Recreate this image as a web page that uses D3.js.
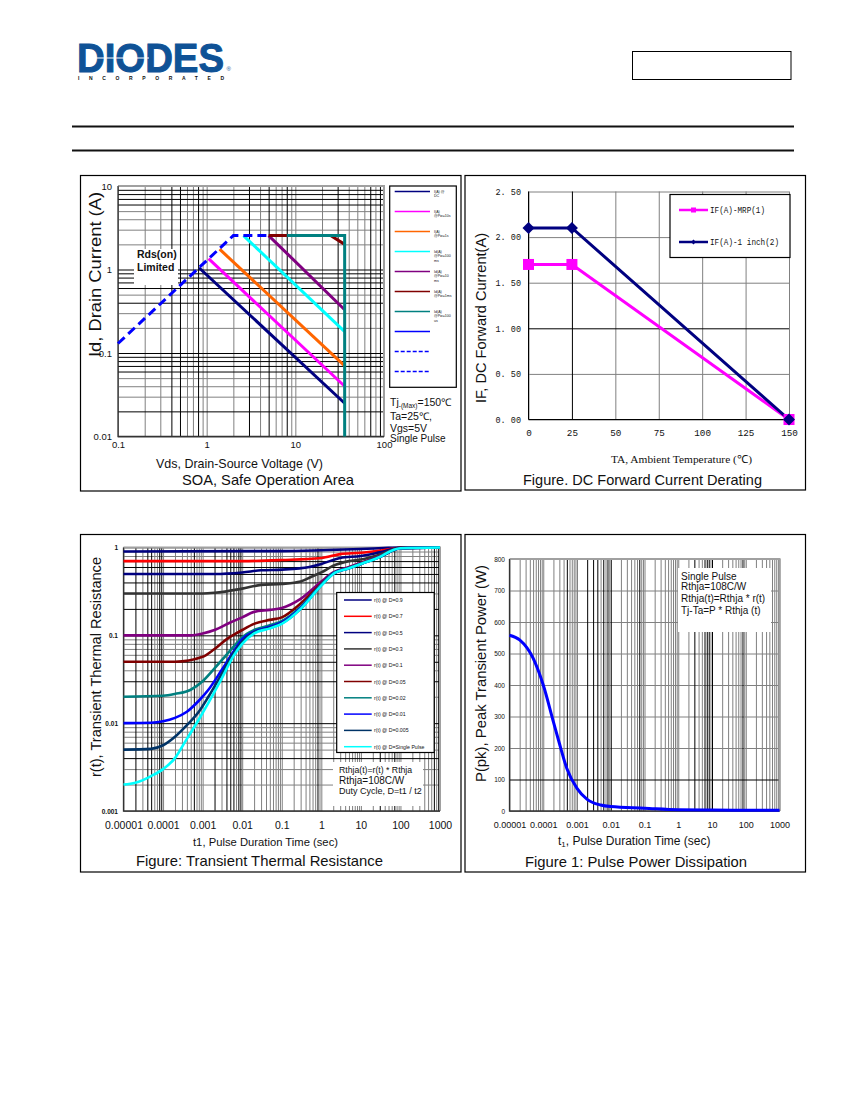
<!DOCTYPE html>
<html>
<head>
<meta charset="utf-8">
<script src="https://cdn.jsdelivr.net/npm/d3@7"></script>
<style>
  body { margin: 0; background: #fff; }
  text { font-family: "Liberation Sans", Arial, sans-serif; fill: #111; }
</style>
</head>
<body>
<div id="page"></div>
<script>
// --- SOA chart values (Vds, Id)
const soaDc = [[0.82, 1.05], [36, 0.025]];
const soaPw10s = [[1.05, 1.35], [36, 0.04]];
const soaPw1s = [[1.4, 1.75], [36, 0.07]];
const soaPw100ms = [[2.6, 2.55], [36, 0.18]];
const soaPw10ms = [[5, 2.55], [36, 0.33]];
const soaPw1ms = [[5, 2.55], [25, 2.55], [36, 2.0]];
const soaPw100us = [[8, 2.55], [36, 2.55], [36, 0.01]];
const soaRdsLimit = [[0.1, 0.13], [2, 2.55], [5, 2.55]];
const soaDarkX = [0.4, 0.5, 0.8, 3, 5, 8, 30, 70, 90];
const soaDarkY = [9, 8, 7, 6, 1, 0.9, 0.8, 0.7, 0.6, 0.4, 0.1, 0.09, 0.08, 0.07, 0.06, 0.02];
const soaXTicks = [0.1, 1, 10, 100];
const soaYTicks = [0.01, 0.1, 1, 10];
const soaLegend = ['I(A) @\nDC', 'I(A)\n@Pw=10s', 'I(A)\n@Pw=1s', 'Id(A)\n@Pw=100\nms', 'Id(A)\n@Pw=10\nms', 'Id(A)\n@Pw=1ms', 'Id(A)\n@Pw=100\nus', '', '', ''];
const soaColors = ['#000080', '#ff00ff', '#ff6600', '#00ffff', '#800080', '#800000', '#008080', '#0000ff', '#0000ff', '#0000ff'];

// --- derating chart values (TA, IF)
const deratingTemp = [0, 25, 150];
const deratingMrp = [1.7, 1.7, 0];
const deratingInch = [2.1, 2.1, 0];
const deratingXTicks = [0, 25, 50, 75, 100, 125, 150];
const deratingYTicks = [0, 0.5, 1, 1.5, 2, 2.5];

// --- transient thermal resistance values (t1, r(t))
const rD09 = [[1e-5, .9], [1e-1, .91], [1, .93], [10, .96], [50, .99], [100, 1], [1000, 1]];
const rD07 = [[1e-5, .7], [1e-2, .7], [.1, .72], [1, .76], [3, .84], [10, .87], [30, .92], [100, .99], [1000, 1]];
const rD05 = [[1e-5, .5], [2e-3, .5], [1e-2, .52], [3e-2, .55], [.1, .56], [.5, .6], [1, .65], [3, .76], [10, .8], [30, .88], [100, .99], [1000, 1]];
const rD03 = [[1e-5, .3], [1e-3, .3], [2e-3, .305], [1e-2, .34], [3e-2, .375], [.1, .385], [.3, .41], [.6, .47], [1, .52], [2, .62], [5, .7], [10, .73], [30, .83], [100, .99], [1000, 1]];
const rD01 = [[1e-5, .1], [5e-4, .1], [1e-3, .105], [2e-3, .115], [5e-3, .14], [1e-2, .16], [2e-2, .185], [5e-2, .195], [.1, .205], [.3, .26], [1, .41], [2, .52], [5, .6], [10, .67], [30, .8], [100, .98], [1000, 1]];
const rD005 = [[1e-5, .05], [2e-4, .05], [1e-3, .057], [2e-3, .07], [4e-3, .09], [7e-3, .105], [1e-2, .115], [2e-2, .135], [5e-2, .15], [.1, .16], [.3, .23], [1, .39], [2, .51], [5, .59], [10, .66], [30, .79], [100, .98], [1000, 1]];
const rD002 = [[1e-5, .02], [1e-4, .0205], [2e-4, .0215], [5e-4, .024], [1e-3, .03], [2e-3, .042], [4e-3, .06], [7e-3, .08], [1e-2, .095], [2e-2, .115], [5e-2, .13], [.1, .145], [.3, .21], [1, .38], [2, .51], [5, .585], [10, .655], [30, .785], [100, .98], [1000, 1]];
const rD001 = [[1e-5, .01], [5e-5, .0101], [1e-4, .0105], [2e-4, .0115], [4e-4, .0135], [8e-4, .018], [1.4e-3, .024], [3e-3, .04], [6e-3, .065], [1e-2, .09], [2e-2, .11], [5e-2, .125], [.1, .14], [.3, .205], [1, .375], [2, .505], [5, .58], [10, .65], [30, .78], [100, .98], [1000, 1]];
const rD0005 = [[1e-5, .005], [5e-5, .0051], [1e-4, .0056], [2e-4, .007], [4e-4, .0095], [8e-4, .0135], [1.4e-3, .02], [3e-3, .036], [6e-3, .062], [1e-2, .085], [2e-2, .108], [5e-2, .122], [.1, .137], [.3, .2], [1, .372], [2, .5], [5, .58], [10, .65], [30, .78], [100, .98], [1000, 1]];
const rSingle = [[1e-5, .002], [2e-5, .0021], [5e-5, .0025], [1e-4, .003], [2e-4, .004], [3.5e-4, .006], [8e-4, .011], [1.4e-3, .017], [3e-3, .032], [6e-3, .058], [1e-2, .08], [2e-2, .105], [5e-2, .12], [.1, .135], [.3, .2], [1, .37], [2, .5], [5, .58], [10, .65], [30, .78], [60, .92], [100, .98], [1000, 1]];
const rSeries = [rD09, rD07, rD05, rD03, rD01, rD005, rD002, rD001, rD0005, rSingle];
const rNames = ['D=0.9', 'D=0.7', 'D=0.5', 'D=0.3', 'D=0.1', 'D=0.05', 'D=0.02', 'D=0.01', 'D=0.005', 'D=Single Pulse'];
const rColors = ['#000080', '#ff0000', '#000080', '#333333', '#800080', '#800000', '#008080', '#0000ff', '#003366', '#00ffff'];
const rDarkX = [2e-5, 4e-5, 5e-5, 8e-5, 9e-5, 6e-4, 2e-3, 4e-3, 5e-3, 6e-3, 8e-3, 9e-3, 0.8, 30, 70, 700, 900];
const rDarkY = [.7, .6, .5, .4, .2, .1, .05, .03, .01, .004];
const timeTicks = [1e-5, 1e-4, 1e-3, 1e-2, 1e-1, 1, 10, 100, 1000];
const timeLabels = ['0.00001', '0.0001', '0.001', '0.01', '0.1', '1', '10', '100', '1000'];
const rYTicks = [0.001, 0.01, 0.1, 1];

// --- peak transient power values (t1, P)
const powerCurve = [[1e-5, 558], [2e-5, 543], [5e-5, 485], [1e-4, 400], [2e-4, 283], [3e-4, 215], [5e-4, 135], [1e-3, 72], [2e-3, 37], [5e-3, 19], [1e-2, 14], [.1, 9], [1, 4], [10, 3], [100, 2.5], [1000, 2]];
const powerDarkX = [5e-4, 2e-3, 3e-3, 4e-3, 6e-3, 8e-3, 1e-2, 0.07, 3, 6, 7, 8, 10, 80];
const powerYTicks = [0, 100, 200, 300, 400, 500, 600, 700, 800];

const svg = d3.select('#page').append('svg').attr('width', 850).attr('height', 1100);

// small helper for the many free text labels
function label(parent, x, y, str, opt) {
  opt = opt || {};
  const t = parent.append('text')
    .attr('x', x).attr('y', y)
    .attr('font-size', opt.size || 10)
    .attr('text-anchor', opt.anchor || 'start')
    .text(str);
  if (opt.weight) t.style('font-weight', opt.weight);
  if (opt.family) t.style('font-family', opt.family);
  if (opt.width) t.attr('textLength', opt.width).attr('lengthAdjust', opt.adjust || 'spacingAndGlyphs');
  if (opt.rotate) t.attr('transform', 'rotate(-90 ' + x + ' ' + y + ')');
  return t;
}

function panel(x0, y0, x1, y1) {
  svg.append('rect').attr('x', x0).attr('y', y0).attr('width', x1 - x0).attr('height', y1 - y0)
    .attr('fill', '#fff').attr('stroke', '#000').attr('stroke-width', 1.2);
}

// axis used only to draw grid lines, one colour at a time
function gridLines(g, scaleX, scaleY, valsX, valsY, color) {
  const w = scaleX.range()[1] - scaleX.range()[0];
  const h = scaleY.range()[0] - scaleY.range()[1];
  const gx = g.append('g').attr('transform', 'translate(0,' + scaleY.range()[0] + ')')
    .call(d3.axisBottom(scaleX).tickValues(valsX).tickSize(-h).tickFormat(''));
  const gy = g.append('g').attr('transform', 'translate(' + scaleX.range()[0] + ',0)')
    .call(d3.axisLeft(scaleY).tickValues(valsY).tickSize(-w).tickFormat(''));
  [gx, gy].forEach(a => {
    a.select('.domain').remove();
    a.selectAll('line').attr('stroke', color).attr('stroke-width', 1);
  });
}

function grid(scaleX, scaleY, darkX, darkY, allX, allY) {
  const g = svg.append('g');
  gridLines(g, scaleX, scaleY,
    (allX || scaleX.ticks()).filter(v => !isDark(v, darkX)),
    (allY || scaleY.ticks()).filter(v => !isDark(v, darkY)), '#808080');
  gridLines(g, scaleX, scaleY, darkX, darkY, '#000');
}

function isDark(v, list) {
  return list.some(d => Math.abs(d - v) < v * 1e-6);
}

function frame(scaleX, scaleY) {
  const x0 = scaleX.range()[0], x1 = scaleX.range()[1];
  const y0 = scaleY.range()[0], y1 = scaleY.range()[1];
  svg.append('path').attr('d', `M${x0},${y1}H${x1}V${y0}`).attr('fill', 'none').attr('stroke', '#a0a0a0').attr('stroke-width', 2);
  svg.append('path').attr('d', `M${x0},${y1}V${y0}H${x1}`).attr('fill', 'none').attr('stroke', '#333').attr('stroke-width', 1.3);
}

function tickLabelsX(scaleX, y, vals, fmt, opt) {
  const a = svg.append('g').attr('transform', 'translate(0,' + y + ')')
    .call(d3.axisBottom(scaleX).tickValues(vals).tickSize(0).tickPadding(0).tickFormat(fmt));
  a.select('.domain').remove();
  a.selectAll('text').attr('font-size', opt.size).attr('font-family', null).attr('dy', 0)
    .style('font-family', opt.family || null);
}

function tickLabelsY(scaleY, x, vals, fmt, opt) {
  const a = svg.append('g').attr('transform', 'translate(' + x + ',0)')
    .call(d3.axisLeft(scaleY).tickValues(vals).tickSize(0).tickPadding(0).tickFormat(fmt));
  a.select('.domain').remove();
  a.selectAll('text').attr('font-size', opt.size).attr('font-family', null)
    .style('font-family', opt.family || null).style('font-weight', opt.weight || null);
}

function whiteBox(x, y, w, h, stroke) {
  svg.append('rect').attr('x', x).attr('y', y).attr('width', w).attr('height', h)
    .attr('fill', '#fff').attr('stroke', stroke || 'none').attr('stroke-width', 1.2);
}

// ---------- page header ----------
const logo = svg.append('g');
label(logo, 77, 72, 'DIODES', { size: 41, weight: 'bold', width: 147 })
  .style('fill', '#0f5296').attr('stroke', '#0f5296').attr('stroke-width', 1);
logo.append('line').attr('x1', 86).attr('x2', 149).attr('y1', 58).attr('y2', 58).attr('stroke', '#fff').attr('stroke-width', 1.2);
label(logo, 78, 79.5, 'INCORPORATED', { size: 5, weight: 'bold', width: 146, adjust: 'spacing' });
label(logo, 226.5, 71, '®', { size: 6 }).style('fill', '#0f5296');
svg.append('rect').attr('x', 632.5).attr('y', 51.5).attr('width', 158.5).attr('height', 28)
  .attr('fill', 'none').attr('stroke', '#000').attr('stroke-width', 1);
[126.5, 150.5].forEach(y => {
  svg.append('line').attr('x1', 72).attr('x2', 794).attr('y1', y).attr('y2', y).attr('stroke', '#111').attr('stroke-width', 2);
});

panel(80.5, 175.5, 461, 491);
panel(465, 175.5, 805.5, 490);
panel(80.5, 534.5, 461, 872);
panel(465, 534.5, 805.5, 872);

// ---------- SOA ----------
const soaX = d3.scaleLog().domain([0.1, 100]).range([118, 384]);
const soaY = d3.scaleLog().domain([0.01, 10]).range([436.5, 186]);
grid(soaX, soaY, soaDarkX, soaDarkY);
whiteBox(134, 249, 44, 36);
label(svg, 137, 258, 'Rds(on)', { size: 10.5, weight: 'bold' });
label(svg, 137, 271, 'Limited', { size: 10.5, weight: 'bold' });
frame(soaX, soaY);

const soaLine = d3.line().x(d => soaX(d[0])).y(d => soaY(d[1]));
[soaDc, soaPw10s, soaPw1s, soaPw100ms, soaPw10ms, soaPw1ms, soaPw100us].forEach((s, i) => {
  svg.append('path').datum(s).attr('d', soaLine).attr('fill', 'none')
    .attr('stroke', soaColors[i]).attr('stroke-width', 3);
});
svg.append('path').datum(soaRdsLimit).attr('d', soaLine).attr('fill', 'none')
  .attr('stroke', '#0000ff').attr('stroke-width', 3).attr('stroke-dasharray', '9,5');

tickLabelsX(soaX, 448, soaXTicks, d => String(d), { size: 9.5 });
tickLabelsY(soaY, 112, soaYTicks, d => String(d), { size: 9.5 });
label(svg, 101, 357, 'Id,  Drain Current (A)', { size: 16, rotate: true, width: 165 });
label(svg, 156, 468, 'Vds, Drain-Source Voltage (V)', { size: 13, width: 167 });
label(svg, 182, 485, 'SOA, Safe Operation Area', { size: 14.5, width: 172 });

whiteBox(389.7, 186, 66.6, 201.3, '#000');
soaLegend.forEach((name, i) => {
  const y = 191.5 + i * 20;
  svg.append('line').attr('x1', 394.7).attr('x2', 430).attr('y1', y).attr('y2', y)
    .attr('stroke', soaColors[i]).attr('stroke-width', 1.4)
    .attr('stroke-dasharray', i > 7 ? '4,2' : null);
  name.split('\n').forEach((part, k) => label(svg, 434, y + 1 + k * 4.5, part, { size: 3.6 }));
});
const tj = label(svg, 390, 406, 'Tj', { size: 10.5 });
tj.append('tspan').attr('font-size', 6.5).attr('dy', 2).text('-(Max)');
tj.append('tspan').attr('dy', -2).text('=150℃');
label(svg, 390, 420, 'Ta=25℃,', { size: 10.5 });
label(svg, 390, 432, 'Vgs=5V', { size: 10.5 });
label(svg, 390, 442, 'Single Pulse', { size: 10 });

// ---------- DC forward current derating ----------
const derX = d3.scaleLinear().domain([0, 150]).range([528.5, 789]);
const derY = d3.scaleLinear().domain([0, 2.5]).range([419.5, 191.5]);
grid(derX, derY, [25], [1], deratingXTicks, deratingYTicks);
svg.append('path').attr('d', `M528.5,191.5V419.5H789`).attr('fill', 'none').attr('stroke', '#000').attr('stroke-width', 1);

const derLine = d3.line().x(d => derX(d[0])).y(d => derY(d[1]));
const mrpPts = deratingTemp.map((t, i) => [t, deratingMrp[i]]);
const inchPts = deratingTemp.map((t, i) => [t, deratingInch[i]]);
svg.append('path').datum(mrpPts).attr('d', derLine).attr('fill', 'none').attr('stroke', '#ff00ff').attr('stroke-width', 3);
svg.append('path').datum(inchPts).attr('d', derLine).attr('fill', 'none').attr('stroke', '#000080').attr('stroke-width', 3);
svg.selectAll('.mrp').data(mrpPts).enter().append('path')
  .attr('transform', d => 'translate(' + derX(d[0]) + ',' + derY(d[1]) + ')')
  .attr('d', d3.symbol(d3.symbolSquare, 121)).attr('fill', '#ff00ff');
svg.selectAll('.inch').data(inchPts).enter().append('path')
  .attr('transform', d => 'translate(' + derX(d[0]) + ',' + derY(d[1]) + ') rotate(45)')
  .attr('d', d3.symbol(d3.symbolSquare, 72)).attr('fill', '#000080');

tickLabelsX(derX, 436, deratingXTicks, d => String(d), { size: 9.3, family: 'Liberation Mono' });
tickLabelsY(derY, 521, deratingYTicks, d => d3.format('.2f')(d).replace('.', '. '), { size: 8.5, family: 'Liberation Mono' });
label(svg, 486, 403, 'IF,  DC Forward Current(A)', { size: 15, rotate: true, width: 170 });
label(svg, 611, 463, 'TA, Ambient Temperature (℃)', { size: 11, family: 'Liberation Serif', width: 141 });
label(svg, 523, 485, 'Figure. DC Forward Current Derating', { size: 14.5, width: 239 });

whiteBox(670, 194.5, 120, 63, '#000');
svg.append('line').attr('x1', 679).attr('x2', 708).attr('y1', 210).attr('y2', 210).attr('stroke', '#ff00ff').attr('stroke-width', 2.5);
svg.append('rect').attr('x', 691).attr('y', 207.5).attr('width', 5).attr('height', 5).attr('fill', '#ff00ff');
svg.append('line').attr('x1', 679).attr('x2', 708).attr('y1', 242).attr('y2', 242).attr('stroke', '#000080').attr('stroke-width', 2.5);
svg.append('path').attr('transform', 'translate(693.5,242) rotate(45)').attr('d', d3.symbol(d3.symbolSquare, 12)).attr('fill', '#000080');
label(svg, 710, 213, 'IF(A)-MRP(1)', { size: 9, family: 'Liberation Mono', width: 55 });
label(svg, 710, 245, 'IF(A)-1 inch(2)', { size: 9, family: 'Liberation Mono', width: 69 });

// ---------- transient thermal resistance ----------
const rX = d3.scaleLog().domain([1e-5, 1000]).range([123.5, 440]);
const rY = d3.scaleLog().domain([0.001, 1]).range([811, 547.5]);
grid(rX, rY, rDarkX, rDarkY);
whiteBox(333, 762, 90, 44);
frame(rX, rY);

const rLine = d3.line().x(d => rX(d[0])).y(d => rY(d[1])).curve(d3.curveMonotoneX);
rSeries.forEach((s, i) => {
  svg.append('path').datum(s).attr('d', rLine).attr('fill', 'none')
    .attr('stroke', rColors[i]).attr('stroke-width', 2.6);
});

tickLabelsX(rX, 829, timeTicks, (d, i) => timeLabels[i], { size: 10.5 });
tickLabelsY(rY, 118, rYTicks, d => String(d), { size: 6.5, weight: 'bold' });
label(svg, 101, 777, 'r(t),  Transient  Thermal  Resistance', { size: 15, rotate: true, width: 220 });
label(svg, 193, 846, 't1, Pulse Duration Time (sec)', { size: 11.5, width: 145 });
label(svg, 136, 866, 'Figure:  Transient Thermal Resistance', { size: 14.5, width: 247 });

whiteBox(336.7, 592.5, 97.5, 160, '#000');
rNames.forEach((name, i) => {
  const y = 600 + i * 16.3;
  svg.append('line').attr('x1', 344).attr('x2', 371.7).attr('y1', y).attr('y2', y)
    .attr('stroke', rColors[i]).attr('stroke-width', 1.5);
  label(svg, 374, y + 2, 'r(t) @ ' + name, { size: 5.2 });
});
label(svg, 339, 773, 'Rthja(t)=r(t) * Rthja', { size: 8.7 });
label(svg, 339, 784, 'Rthja=108C/W', { size: 10 });
label(svg, 339, 794, 'Duty Cycle, D=t1 / t2', { size: 9 });

// ---------- pulse power dissipation ----------
const pX = d3.scaleLog().domain([1e-5, 1000]).range([509.5, 779.5]);
const pY = d3.scaleLinear().domain([0, 800]).range([811, 559]);
grid(pX, pY, powerDarkX, [100], pX.ticks(), powerYTicks);
whiteBox(678, 568, 93, 64);
frame(pX, pY);

const pLine = d3.line().x(d => pX(d[0])).y(d => pY(d[1])).curve(d3.curveMonotoneX);
svg.append('path').datum(powerCurve).attr('d', pLine).attr('fill', 'none').attr('stroke', '#0000ff').attr('stroke-width', 3);

tickLabelsX(pX, 828, timeTicks, (d, i) => timeLabels[i], { size: 9 });
tickLabelsY(pY, 505, powerYTicks, d => String(d), { size: 6.5 });
label(svg, 486, 782, 'P(pk),  Peak Transient  Power (W)', { size: 15, rotate: true, width: 217 });
const t1 = label(svg, 558, 845, 't', { size: 12 });
t1.append('tspan').attr('font-size', 8).attr('dy', 2).text('1');
t1.append('tspan').attr('dy', -2).text(', Pulse Duration Time (sec)');
label(svg, 525, 867, 'Figure 1:  Pulse Power Dissipation', { size: 14.5, width: 222 });
['Single Pulse', 'Rthja=108C/W', 'Rthja(t)=Rthja * r(t)', 'Tj-Ta=P * Rthja (t)'].forEach((s, i) => {
  label(svg, 681, [580, 590, 601.5, 613.5][i], s, { size: 10 });
});
</script>
</body>
</html>
